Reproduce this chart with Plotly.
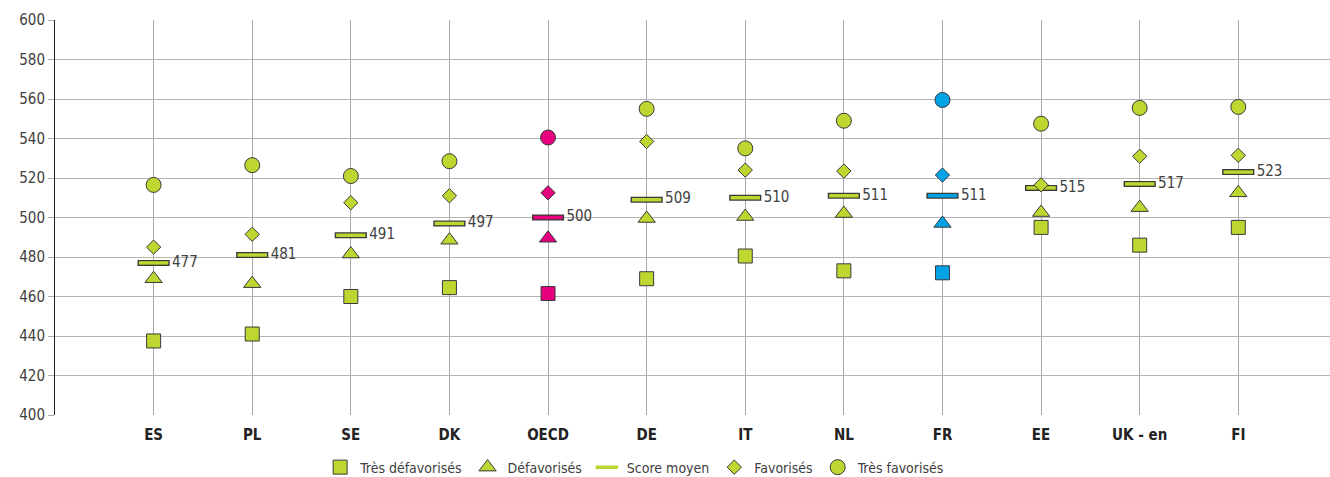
import plotly.graph_objects as go

countries = ["ES", "PL", "SE", "DK", "OECD", "DE", "IT", "NL", "FR", "EE", "UK - en", "FI"]
tres_defavorises = [437.5, 441, 460, 464.5, 461.5, 469, 480.5, 473, 472, 495, 486, 495]
defavorises = [469, 466.5, 481.5, 488.5, 489.5, 499.5, 500.5, 502, 497, 502.5, 505, 512.5]
score_moyen = [477, 481, 491, 497, 500, 509, 510, 511, 511, 515, 517, 523]
favorises = [485, 491.5, 507.5, 511, 512.5, 538.5, 524, 523.5, 521.5, 516.5, 531, 531.5]
tres_favorises = [516.5, 526.5, 521, 528.5, 540.5, 555, 535, 549, 559.5, 547.5, 555.5, 556]
y_ticks = list(range(400, 601, 20))

GREEN = "#bed62f"
PINK = "#e6007e"
BLUE = "#00a3e6"
EDGE = "#3a3a3a"
FONT = "DejaVu Sans Condensed, Liberation Sans Narrow, Roboto, sans-serif"


def point_colors():
    cols = []
    for c in countries:
        if c == "OECD":
            cols.append(PINK)
        elif c == "FR":
            cols.append(BLUE)
        else:
            cols.append(GREEN)
    return cols


x = list(range(len(countries)))
cols = point_colors()

fig = go.Figure()

fig.add_trace(go.Scatter(
    x=x, y=tres_defavorises, mode="markers", name="Très défavorisés",
    marker=dict(symbol="square", size=14, color=cols, line=dict(color=EDGE, width=1)),
))
fig.add_trace(go.Scatter(
    x=x, y=defavorises, mode="markers", name="Défavorisés",
    marker=dict(symbol="triangle-up", size=15, color=cols, line=dict(color=EDGE, width=1)),
))
# mean score bar: dark outline drawn under a coloured bar
fig.add_trace(go.Scatter(
    x=x, y=score_moyen, mode="markers", showlegend=False, hoverinfo="skip",
    marker=dict(symbol="line-ew", size=23, line=dict(color=EDGE, width=6)),
))
fig.add_trace(go.Scatter(
    x=x, y=score_moyen, mode="markers+text", name="Score moyen",
    text=[" " + str(v) for v in score_moyen], textposition="middle right",
    textfont=dict(family=FONT, size=15, color="#404040"),
    marker=dict(symbol="line-ew", size=21, line=dict(color=cols, width=3.5)),
))
fig.add_trace(go.Scatter(
    x=x, y=favorises, mode="markers", name="Favorisés",
    marker=dict(symbol="diamond", size=11, color=cols, line=dict(color=EDGE, width=1)),
))
fig.add_trace(go.Scatter(
    x=x, y=tres_favorises, mode="markers", name="Très favorisés",
    marker=dict(symbol="circle", size=15, color=cols, line=dict(color=EDGE, width=1)),
))

fig.update_layout(
    width=1330, height=477,
    margin=dict(l=55, r=0, t=20, b=62, autoexpand=False),
    plot_bgcolor="white", paper_bgcolor="white",
    font=dict(family=FONT, size=14, color="#404040"),
    xaxis=dict(
        range=[-1, 11.93], tickmode="array", tickvals=x, ticktext=countries,
        tickfont=dict(family=FONT, size=15, color="#222222", weight="bold"),
        showgrid=True, gridcolor="#a8a8a8", gridwidth=1,
        zeroline=False, showline=False, ticks="", ticklabelstandoff=9,
    ),
    yaxis=dict(
        range=[400, 600], tickmode="array", tickvals=y_ticks,
        showgrid=True, gridcolor="#b4b4b4", gridwidth=1.3,
        zeroline=False, showline=True, linecolor="#1a1a1a", linewidth=1,
        ticks="outside", ticklen=6, tickcolor="#a8a8a8",
        tickfont=dict(family=FONT, size=15, color="#404040"),
    ),
    legend=dict(
        orientation="h", x=0.455, xanchor="center", y=-0.133, yanchor="middle",
        font=dict(family=FONT, size=14, color="#404040"),
        itemwidth=30, tracegroupgap=0,
    ),
)

fig.write_html("out.html")
